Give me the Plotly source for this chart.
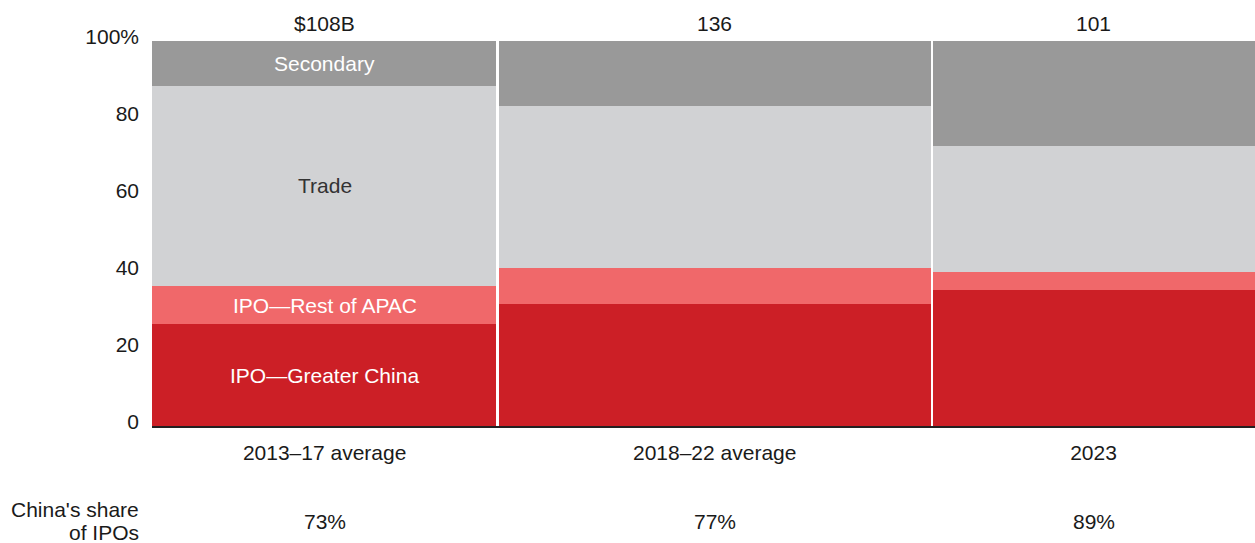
import plotly.graph_objects as go

# Deal value by exit route, APAC buyout-backed exits (share of total, %)
periods = ["2013–17 average", "2018–22 average", "2023"]
totals = [108, 136, 101]                # total exit value, $B
total_labels = ["$108B", "136", "101"]
china_share = ["73%", "77%", "89%"]

segments = ["IPO—Greater China", "IPO—Rest of APAC", "Trade", "Secondary"]
ipo_china = [26.4, 31.7, 35.4]
ipo_rest = [9.9, 9.4, 4.5]
trade = [52.1, 42.0, 32.8]
secondary = [11.6, 16.9, 27.3]

colors = ["#CC1F26", "#F0686A", "#D1D2D4", "#999999"]
label_colors = ["white", "white", "#333333", "white"]

values = [ipo_china, ipo_rest, trade, secondary]

FONT = "Liberation Sans, Arial, sans-serif"
FS = 21
INK = "#1a1a1a"
GAP = 0.8  # white gutter between columns, in x-data units

# Marimekko geometry: column width proportional to total value
edges = [0]
for t in totals:
    edges.append(edges[-1] + t)
lefts, rights = [], []
for i in range(len(totals)):
    lefts.append(edges[i] + (GAP / 2 if i > 0 else 0))
    rights.append(edges[i + 1] - (GAP / 2 if i < len(totals) - 1 else 0))
centers = [(a + b) / 2 for a, b in zip(lefts, rights)]
widths = [b - a for a, b in zip(lefts, rights)]
mids = [(edges[i] + edges[i + 1]) / 2 for i in range(len(totals))]

fig = go.Figure()
for name, vals, col in zip(segments, values, colors):
    fig.add_trace(go.Bar(
        x=centers, y=vals, width=widths, name=name,
        marker=dict(color=col, line=dict(width=0)),
        hoverinfo="skip",
    ))

annotations = []
# segment labels in the first column
base = 0
for name, vals, lc in zip(segments, values, label_colors):
    annotations.append(dict(
        x=mids[0], y=base + vals[0] / 2, xref="x", yref="y",
        text=name, showarrow=False,
        font=dict(family=FONT, size=FS, color=lc),
    ))
    base += vals[0]

# totals above each column
for m, lab in zip(mids, total_labels):
    annotations.append(dict(
        x=m, y=1, xref="x", yref="paper", yanchor="bottom", yshift=4,
        text=lab, showarrow=False,
        font=dict(family=FONT, size=FS, color=INK),
    ))

# China's share of IPOs row
for m, s in zip(mids, china_share):
    annotations.append(dict(
        x=m, y=-0.247, xref="x", yref="paper", yanchor="middle",
        text=s, showarrow=False,
        font=dict(family=FONT, size=FS, color=INK),
    ))
for line, dy in (("China's share", -0.218), ("of IPOs", -0.277)):
    annotations.append(dict(
        x=0, y=dy, xref="paper", yref="paper", xanchor="right", yanchor="middle",
        xshift=-11, text=line, showarrow=False,
        font=dict(family=FONT, size=FS, color=INK),
    ))

fig.update_layout(
    width=1255, height=543,
    margin=dict(l=152, r=0, t=41, b=117),
    barmode="stack", bargap=0,
    showlegend=False,
    plot_bgcolor="white", paper_bgcolor="white",
    font=dict(family=FONT, size=FS, color=INK),
    annotations=annotations,
)
fig.update_xaxes(
    range=[0, edges[-1]],
    tickmode="array", tickvals=mids, ticktext=periods,
    ticks="", ticklabelstandoff=7,
    showline=True, linecolor="#231F20", linewidth=2,
    showgrid=False, zeroline=False, fixedrange=True,
)
fig.update_yaxes(
    range=[0, 100],
    tickmode="array", tickvals=[0, 20, 40, 60, 80, 100],
    ticktext=["0", "20", "40", "60", "80", "100%"],
    ticks="", ticklabelstandoff=12, ticklabelshift=-4,
    showline=False, showgrid=False, zeroline=False, fixedrange=True,
)

fig.write_html("out.html")
